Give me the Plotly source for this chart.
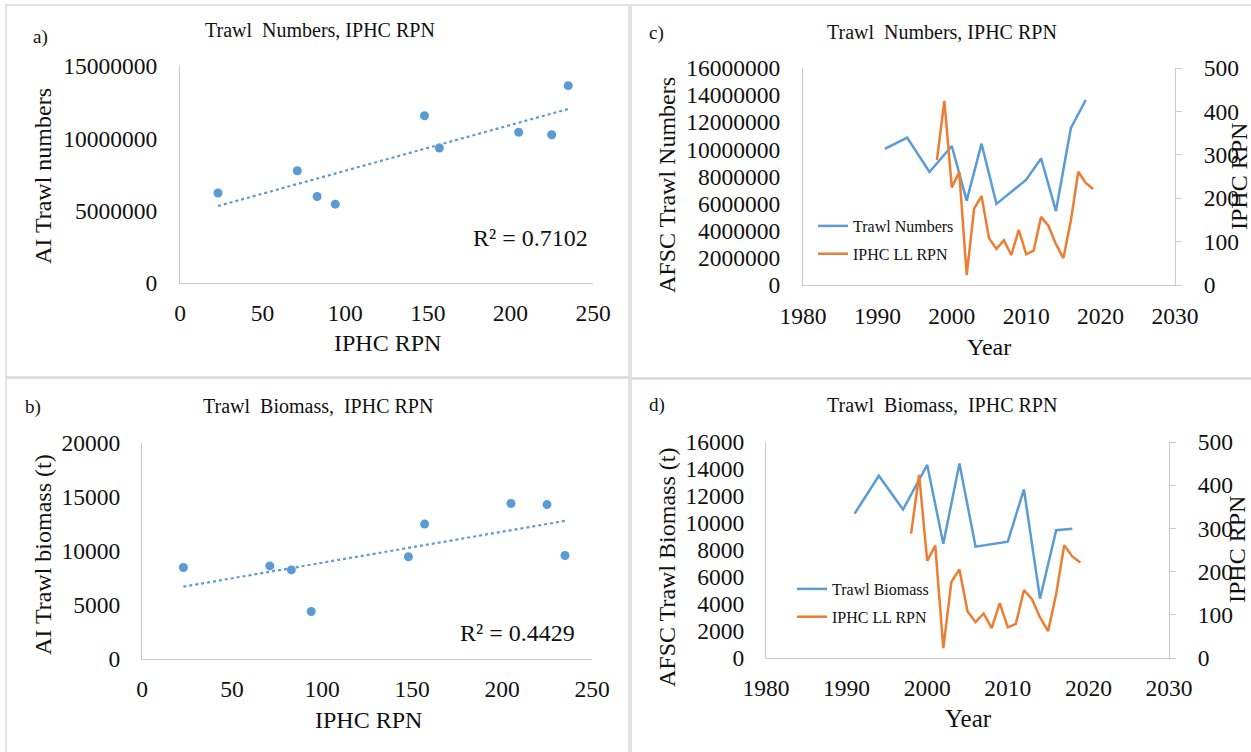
import numpy as np
import plotly.graph_objects as go

# ---------------- data ----------------
trawl_years = [1991, 1994, 1997, 2000, 2002, 2004, 2006, 2010, 2012, 2014, 2016, 2018]
trawl_numbers = [10030000, 10870000, 8330000, 10250000, 6220000, 10420000, 5980000,
                 7760000, 9330000, 5450000, 11560000, 13640000]
trawl_biomass = [10700, 13500, 11000, 14300, 8470, 14400, 8250, 8620, 12490, 4400, 9470, 9580]

iphc_years = list(range(1998, 2020))
iphc_rpn = [288, 424, 225, 260, 23, 176, 205, 108, 83, 103, 69, 127, 71, 79, 157, 136,
            94, 62, 148, 261, 235, 221]

r2_labels = ["R² = 0.7102", "R² = 0.4429"]
panel_titles = ["Trawl  Numbers, IPHC RPN", "Trawl  Biomass,  IPHC RPN",
                "Trawl  Numbers, IPHC RPN", "Trawl  Biomass,  IPHC RPN"]
panel_letters = ["a)", "b)", "c)", "d)"]

# ---------------- helpers ----------------
W, H = 1251, 752
BLUE = "#5B9BD5"
ORANGE = "#ED7D31"
GRID = "#c9c9c9"
FONT = "Liberation Serif, Times New Roman, serif"
TXT = "#111111"
TICK = 23.5


def dx(a, b):
    return [a / W, b / W]


def dy(top, bottom):
    return [1 - bottom / H, 1 - top / H]


def px(x):
    return x / W


def py(y):
    return 1 - y / H


rpn_by_year = dict(zip(iphc_years, iphc_rpn))
pair_x, pair_num, pair_bio = [], [], []
for yr, n, b in zip(trawl_years, trawl_numbers, trawl_biomass):
    if yr in rpn_by_year:
        pair_x.append(rpn_by_year[yr])
        pair_num.append(n)
        pair_bio.append(b)
pair_x = np.array(pair_x, float)


def trend(xv, yv):
    k, c = np.polyfit(xv, yv, 1)
    xs = np.array([xv.min(), xv.max()])
    return xs, k * xs + c


fig = go.Figure()

fig.add_trace(go.Scatter(x=pair_x, y=pair_num, mode="markers", xaxis="x", yaxis="y",
                         marker=dict(color=BLUE, size=9), showlegend=False))
tx, ty = trend(pair_x, np.array(pair_num, float))
fig.add_trace(go.Scatter(x=tx, y=ty, mode="lines", xaxis="x", yaxis="y",
                         line=dict(color=BLUE, width=2.2, dash="dot"), showlegend=False))

fig.add_trace(go.Scatter(x=pair_x, y=pair_bio, mode="markers", xaxis="x2", yaxis="y2",
                         marker=dict(color=BLUE, size=9), showlegend=False))
tx, ty = trend(pair_x, np.array(pair_bio, float))
fig.add_trace(go.Scatter(x=tx, y=ty, mode="lines", xaxis="x2", yaxis="y2",
                         line=dict(color=BLUE, width=2.2, dash="dot"), showlegend=False))

fig.add_trace(go.Scatter(x=trawl_years, y=trawl_numbers, mode="lines", name="Trawl Numbers",
                         xaxis="x3", yaxis="y3", line=dict(color=BLUE, width=2.5),
                         legend="legend", legendgroup="c1"))
fig.add_trace(go.Scatter(x=iphc_years, y=iphc_rpn, mode="lines", name="IPHC LL RPN",
                         xaxis="x3", yaxis="y4", line=dict(color=ORANGE, width=2.5),
                         legend="legend", legendgroup="c2"))

fig.add_trace(go.Scatter(x=trawl_years, y=trawl_biomass, mode="lines", name="Trawl Biomass",
                         xaxis="x4", yaxis="y5", line=dict(color=BLUE, width=2.5),
                         legend="legend2", legendgroup="d1"))
fig.add_trace(go.Scatter(x=iphc_years, y=iphc_rpn, mode="lines", name="IPHC LL RPN",
                         xaxis="x4", yaxis="y6", line=dict(color=ORANGE, width=2.5),
                         legend="legend2", legendgroup="d2"))


def axis(**kw):
    d = dict(showgrid=False, zeroline=False, showline=True, linecolor=GRID, linewidth=1.3,
             tickfont=dict(family=FONT, size=TICK, color=TXT), ticks="", fixedrange=True,
             automargin=False)
    d.update(kw)
    return d


legend_font = dict(family=FONT, size=16, color=TXT)

layout = dict(
    template="none",
    width=W, height=H, margin=dict(l=0, r=0, t=0, b=0, pad=0, autoexpand=False),
    autosize=False,
    paper_bgcolor="white", plot_bgcolor="white",
    font=dict(family=FONT, color=TXT),
    xaxis=axis(domain=dx(180, 593), range=[0, 250], dtick=50, anchor="y", ticklabelstandoff=9),
    yaxis=axis(domain=dy(66, 283), range=[0, 15000000], dtick=5000000, tickformat="d",
               anchor="x", ticklabelstandoff=17),
    xaxis2=axis(domain=dx(142, 592), range=[0, 250], dtick=50, anchor="y2", ticklabelstandoff=9),
    yaxis2=axis(domain=dy(443, 659), range=[0, 20000], dtick=5000, tickformat="d",
                anchor="x2", ticklabelstandoff=16),
    xaxis3=axis(domain=dx(803, 1175), range=[1980, 2030], dtick=10, anchor="y3",
                ticklabelstandoff=10),
    yaxis3=axis(domain=dy(68, 285), range=[0, 16000000], dtick=2000000, tickformat="d",
                anchor="x3", ticklabelstandoff=17),
    yaxis4=axis(domain=dy(68, 285), range=[0, 500], dtick=100, anchor="x3", overlaying="y3",
                side="right", ticks="outside", ticklen=6, tickcolor=GRID, tickwidth=1.3,
                ticklabelstandoff=17),
    xaxis4=axis(domain=dx(766, 1169), range=[1980, 2030], dtick=10, anchor="y5",
                ticklabelstandoff=9),
    yaxis5=axis(domain=dy(442, 658), range=[0, 16000], dtick=2000, tickformat="d",
                anchor="x4", ticklabelstandoff=16),
    yaxis6=axis(domain=dy(442, 658), range=[0, 500], dtick=100, anchor="x4", overlaying="y5",
                side="right", ticks="outside", ticklen=6, tickcolor=GRID, tickwidth=1.3,
                ticklabelstandoff=17),
    legend=dict(x=px(813), y=py(209), xanchor="left", yanchor="top", font=legend_font,
                bgcolor="rgba(0,0,0,0)", tracegroupgap=4),
    legend2=dict(x=px(792), y=py(572), xanchor="left", yanchor="top", font=legend_font,
                 bgcolor="rgba(0,0,0,0)", tracegroupgap=4),
)
fig.update_layout(**layout)

shapes = []
for (x0, y0, x1, y1) in [(6, 5, 629, 377), (631, 5, 1260, 378), (6, 378, 629, 760),
                         (631, 379, 1260, 760)]:
    shapes.append(dict(type="rect", xref="paper", yref="paper", x0=px(x0), x1=px(x1),
                       y0=py(y1), y1=py(y0), line=dict(color="#d9d9d9", width=1.5),
                       layer="below"))
fig.update_layout(shapes=shapes)

ann = []


def text(x, y, s, size, angle=0):
    ann.append(dict(x=px(x), y=py(y), xref="paper", yref="paper", text=s, showarrow=False,
                    xanchor="center", yanchor="middle", textangle=angle,
                    font=dict(family=FONT, size=size, color=TXT)))


text(320, 30, panel_titles[0], 20)
text(318, 406, panel_titles[1], 20)
text(942, 32, panel_titles[2], 20)
text(942, 405, panel_titles[3], 20)
text(40, 37, panel_letters[0], 19)
text(33, 407, panel_letters[1], 19)
text(657, 33, panel_letters[2], 19)
text(657, 405, panel_letters[3], 19)

text(43, 176, "AI Trawl numbers", 24, -90)
text(387, 343, "IPHC RPN", 24)
text(43, 555, "AI Trawl biomass (t)", 24, -90)
text(368, 720, "IPHC RPN", 24)
text(667, 185, "AFSC Trawl Numbers", 24, -90)
text(1239, 177, "IPHC RPN", 24, -90)
text(989, 347, "Year", 24)
text(667, 568, "AFSC Trawl Biomass (t)", 24, -90)
text(1237, 550, "IPHC RPN", 24, -90)
text(968, 718, "Year", 25)

text(530, 238, r2_labels[0], 24)
text(517, 633, r2_labels[1], 24)

fig.update_layout(annotations=ann)
fig.write_html("out.html")
